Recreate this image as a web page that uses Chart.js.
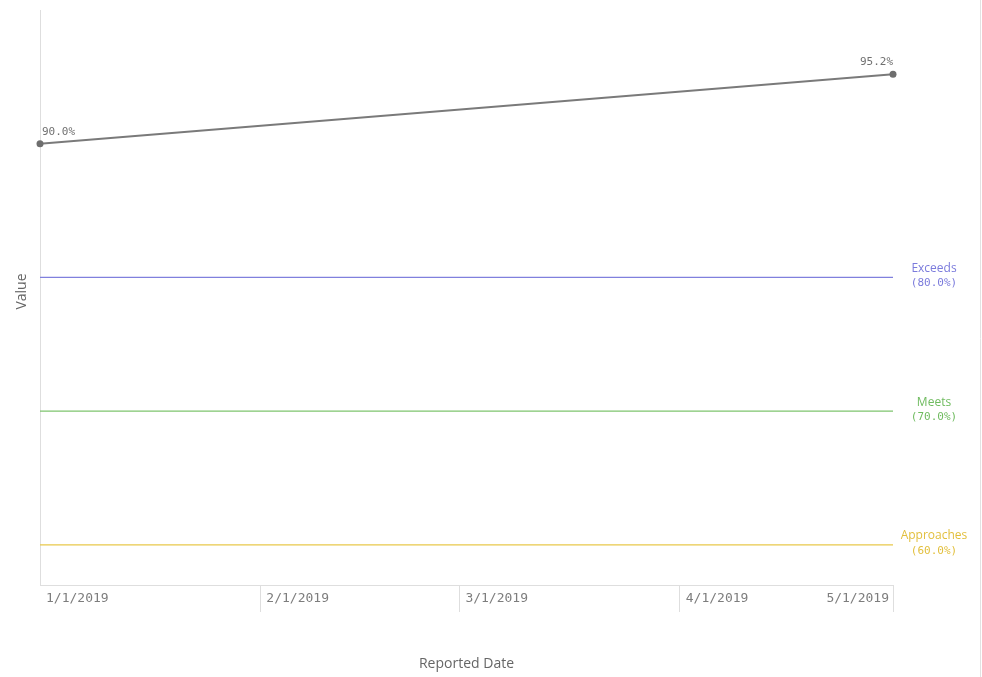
<!DOCTYPE html>
<html>
<head>
<meta charset="utf-8">
<style>
  html, body { margin: 0; padding: 0; background: #fff; }
  #wrap { width: 982px; height: 677px; position: relative; }
</style>
<script src="https://cdn.jsdelivr.net/npm/chart.js@4.4.0/dist/chart.umd.min.js"></script>
</head>
<body>
<div id="wrap"><canvas id="chart" width="982" height="677"></canvas></div>
<script>
// data, x is days since 1/1/2019
const pointDays = [0, 120];
const pointLabels = ['1/1/2019', '5/1/2019'];
const values = [90.0, 95.2];

const tickDays = [0, 31, 59, 90, 120];
const tickLabels = ['1/1/2019', '2/1/2019', '3/1/2019', '4/1/2019', '5/1/2019'];

const refNames = ['Exceeds', 'Meets', 'Approaches'];
const refValues = [80, 70, 60];
const refColors = ['#8080dd', '#7ec46e', '#e8c84a'];
const refTextColors = ['#7b7bdc', '#6fbb5f', '#e2bf3c'];

const MONO = '"DejaVu Sans Mono", monospace';
const SANS = '"Open Sans", "Noto Sans", sans-serif';

let datasets = [{
    label: 'Value',
    data: pointDays.map((d, i) => ({ x: d, y: values[i] })),
    borderColor: '#7a7a7a',
    backgroundColor: '#6e6e6e',
    borderWidth: 2,
    pointRadius: 3.5,
    pointBorderWidth: 0,
    clip: false
}];
refValues.forEach((v, i) => {
    datasets.push({
        label: refNames[i],
        data: [{ x: tickDays[0], y: v }, { x: tickDays[tickDays.length - 1], y: v }],
        borderColor: refColors[i],
        borderWidth: 1.2,
        pointRadius: 0
    });
});

// labels, titles and the outer border
const decor = {
    id: 'decor',
    afterDraw(chart) {
        const c = chart.ctx;
        const xs = chart.scales.x, ys = chart.scales.y;
        const area = chart.chartArea;
        c.save();

        // right border
        c.strokeStyle = '#e2e2e2';
        c.lineWidth = 1;
        c.beginPath();
        c.moveTo(980.5, 0);
        c.lineTo(980.5, 677);
        c.stroke();

        // x tick labels
        c.font = '13px ' + MONO;
        c.fillStyle = '#7d7d7d';
        c.textBaseline = 'middle';
        tickDays.forEach((d, i) => {
            const px = xs.getPixelForValue(d);
            if (i === tickDays.length - 1) {
                c.textAlign = 'right';
                c.fillText(tickLabels[i], px - 4, area.bottom + 14);
            } else {
                c.textAlign = 'left';
                c.fillText(tickLabels[i], px + 6, area.bottom + 14);
            }
        });

        // point value labels
        c.font = '11px ' + MONO;
        c.fillStyle = '#707070';
        c.textBaseline = 'alphabetic';
        pointDays.forEach((d, i) => {
            const px = xs.getPixelForValue(d);
            const py = ys.getPixelForValue(values[i]);
            const txt = values[i].toFixed(1) + '%';
            if (i === pointDays.length - 1) {
                c.textAlign = 'right';
                c.fillText(txt, px, py - 9);
            } else {
                c.textAlign = 'left';
                c.fillText(txt, px + 2, py - 9);
            }
        });

        // reference line labels
        refValues.forEach((v, i) => {
            const py = ys.getPixelForValue(v);
            const cx = area.right + 41;
            c.textAlign = 'center';
            c.textBaseline = 'middle';
            c.fillStyle = refTextColors[i];
            c.font = '12px ' + SANS;
            c.fillText(refNames[i], cx, py - 9);
            c.font = '11px ' + MONO;
            c.fillText('(' + v.toFixed(1) + '%)', cx, py + 6);
        });

        // axis titles
        c.fillStyle = '#666';
        c.font = '14px ' + SANS;
        c.textAlign = 'center';
        c.textBaseline = 'middle';
        c.fillText('Reported Date', (area.left + area.right) / 2, 664);
        c.translate(22, (area.top + area.bottom) / 2 - 6);
        c.rotate(-Math.PI / 2);
        c.fillText('Value', 0, 0);
        c.restore();
    }
};

new Chart(document.getElementById('chart'), {
    type: 'line',
    data: { datasets: datasets },
    plugins: [decor],
    options: {
        responsive: false,
        animation: false,
        layout: { padding: { left: 40, top: 10, right: 89, bottom: 65 } },
        plugins: { legend: { display: false }, tooltip: { enabled: false } },
        scales: {
            x: {
                type: 'linear',
                min: tickDays[0],
                max: tickDays[tickDays.length - 1],
                afterBuildTicks(scale) { scale.ticks = tickDays.map(v => ({ value: v })); },
                afterFit(scale) { scale.height = 27; },
                ticks: { display: false },
                grid: {
                    drawOnChartArea: false,
                    tickLength: 27,
                    color: ctx => ctx.index === 0 ? 'rgba(0,0,0,0)' : '#dedede'
                },
                border: { color: '#dedede' }
            },
            y: {
                min: 57,
                max: 100,
                afterFit(scale) { scale.width = 0; },
                ticks: { display: false },
                grid: { display: false, drawTicks: false },
                border: { color: '#dedede' }
            }
        }
    }
});
</script>
</body>
</html>
